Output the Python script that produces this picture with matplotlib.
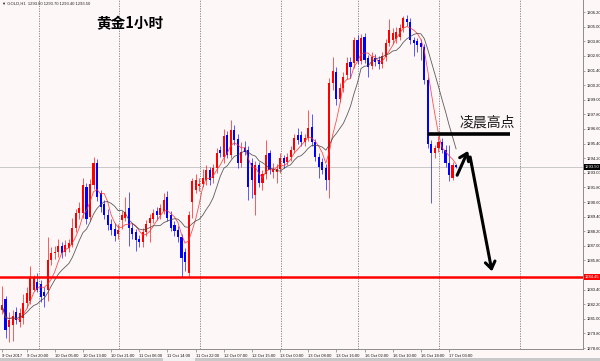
import pandas as pd
import matplotlib
matplotlib.use("Agg")
import matplotlib.pyplot as plt
from matplotlib.patches import Rectangle
from matplotlib.transforms import blended_transform_factory

# GOLD H1 candles, 9 Oct 2017 -> 17 Oct 2017
opens = [1281.7, 1282.6, 1280.3, 1280.5, 1281.6, 1280.7, 1281.1, 1282.3, 1282.5, 1283.4,
         1284.0, 1283.9, 1283.2, 1283.4, 1285.8, 1286.4, 1286.5, 1287.0, 1286.5, 1286.8,
         1287.1, 1288.5, 1289.7, 1289.7, 1291.8, 1289.4, 1292.0, 1293.8, 1291.3, 1290.4,
         1289.5, 1288.8, 1288.4, 1288.0, 1289.1, 1289.3, 1290.1, 1288.5, 1288.1, 1287.6,
         1287.3, 1288.1, 1288.9, 1289.2, 1289.9, 1289.5, 1289.9, 1291.0, 1289.5, 1288.7,
         1288.3, 1287.7, 1286.5, 1284.8, 1290.6, 1291.6, 1291.9, 1292.1, 1292.4, 1293.2,
         1292.6, 1293.4, 1294.9, 1294.3, 1296.1, 1294.5, 1296.5, 1295.8, 1293.8, 1295.0,
         1294.9, 1293.8, 1291.2, 1293.6, 1292.2, 1292.9, 1294.6, 1293.1, 1293.1, 1293.3,
         1294.2, 1293.9, 1294.3, 1294.9, 1296.1, 1296.1, 1295.5, 1295.9, 1296.8, 1295.5,
         1294.3, 1293.9, 1293.4, 1292.4, 1300.4, 1301.3, 1299.1, 1300.0, 1301.0, 1302.1,
         1302.0, 1303.9, 1302.2, 1304.2, 1302.4, 1301.8, 1302.4, 1302.3, 1301.9, 1302.5,
         1303.7, 1303.9, 1304.0, 1304.15, 1304.9, 1305.6, 1305.4, 1303.9, 1303.8, 1303.7,
         1303.3, 1300.6, 1295.4, 1294.6, 1295.0, 1295.5, 1294.9, 1293.8, 1292.6, 1293.6]
highs = [1283.7, 1282.9, 1281.6, 1281.7, 1282.0, 1281.9, 1283.0, 1283.6, 1285.3, 1284.6,
         1284.8, 1284.2, 1283.6, 1287.7, 1286.9, 1287.0, 1287.6, 1287.3, 1287.5, 1287.6,
         1289.3, 1290.0, 1290.6, 1292.6, 1292.2, 1292.5, 1294.3, 1294.1, 1291.6, 1290.8,
         1290.0, 1289.2, 1288.9, 1288.8, 1289.9, 1291.0, 1291.4, 1288.9, 1288.4, 1287.9,
         1288.5, 1289.1, 1289.6, 1290.0, 1290.2, 1290.4, 1291.3, 1291.5, 1289.9, 1289.0,
         1288.6, 1288.0, 1286.8, 1289.9, 1292.6, 1292.9, 1292.6, 1293.3, 1293.6, 1293.5,
         1293.7, 1295.0, 1295.2, 1296.6, 1296.4, 1297.3, 1296.9, 1296.2, 1295.5, 1295.6,
         1295.2, 1294.2, 1294.0, 1293.9, 1293.2, 1295.7, 1294.9, 1293.8, 1293.7, 1294.6,
         1294.5, 1294.6, 1295.2, 1296.2, 1296.7, 1296.4, 1296.2, 1298.2, 1297.8, 1295.8,
         1294.6, 1294.2, 1293.7, 1300.8, 1302.5, 1301.7, 1300.4, 1301.3, 1302.5, 1302.5,
         1304.2, 1304.3, 1304.4, 1304.5, 1302.7, 1302.9, 1302.8, 1302.6, 1302.9, 1304.0,
         1305.6, 1304.9, 1305.0, 1305.2, 1305.9, 1306.0, 1305.7, 1304.2, 1304.1, 1304.0,
         1303.6, 1300.9, 1295.7, 1295.3, 1296.0, 1295.9, 1295.3, 1295.3, 1293.9, 1293.7]
lows = [1281.4, 1279.4, 1279.1, 1279.2, 1280.6, 1280.3, 1280.6, 1281.9, 1282.2, 1283.3,
        1283.2, 1282.4, 1282.0, 1282.5, 1285.4, 1285.9, 1286.1, 1286.0, 1286.2, 1286.5,
        1286.9, 1288.1, 1289.2, 1289.3, 1288.8, 1289.0, 1291.7, 1290.7, 1289.8, 1289.2,
        1288.3, 1287.9, 1287.4, 1287.6, 1288.4, 1289.0, 1287.0, 1287.6, 1286.6, 1286.9,
        1286.9, 1287.8, 1287.3, 1288.9, 1289.1, 1289.2, 1289.6, 1289.0, 1288.2, 1287.8,
        1287.3, 1284.4, 1284.9, 1284.4, 1289.3, 1291.3, 1291.5, 1291.8, 1292.0, 1292.0,
        1292.2, 1293.0, 1294.3, 1293.8, 1294.2, 1294.2, 1295.3, 1293.4, 1293.5, 1294.5,
        1290.8, 1290.9, 1289.5, 1291.8, 1291.6, 1292.5, 1292.9, 1292.6, 1292.2, 1293.0,
        1293.4, 1293.6, 1294.0, 1294.6, 1295.4, 1295.2, 1295.2, 1295.6, 1295.2, 1294.0,
        1292.6, 1292.9, 1291.6, 1290.9, 1299.8, 1298.6, 1298.8, 1299.6, 1300.7, 1300.8,
        1301.6, 1301.9, 1301.9, 1302.0, 1300.9, 1301.5, 1301.8, 1301.5, 1301.6, 1302.2,
        1303.4, 1303.6, 1303.7, 1303.9, 1304.6, 1305.1, 1303.6, 1302.6, 1302.9, 1302.3,
        1300.3, 1295.0, 1290.5, 1294.2, 1294.7, 1294.6, 1293.5, 1292.3, 1292.4, 1293.4]
closes = [1282.1, 1280.1, 1280.9, 1281.2, 1280.9, 1281.5, 1282.3, 1283.1, 1284.4, 1284.4,
          1283.4, 1282.8, 1282.9, 1285.8, 1286.4, 1286.5, 1287.0, 1286.4, 1287.1, 1287.2,
          1288.5, 1289.7, 1290.1, 1292.0, 1289.2, 1292.1, 1293.8, 1291.0, 1290.2, 1289.5,
          1288.7, 1288.3, 1287.8, 1288.3, 1289.5, 1289.8, 1288.5, 1288.0, 1287.5, 1287.3,
          1288.1, 1288.8, 1289.3, 1289.7, 1289.5, 1290.1, 1290.8, 1289.3, 1288.5, 1288.2,
          1287.7, 1286.0, 1285.7, 1289.5, 1292.3, 1292.4, 1292.1, 1292.6, 1293.2, 1292.4,
          1293.4, 1294.6, 1294.6, 1296.0, 1294.5, 1296.5, 1295.7, 1293.8, 1294.7, 1294.7,
          1291.8, 1292.4, 1293.6, 1292.2, 1292.9, 1294.5, 1293.2, 1293.3, 1293.3, 1294.2,
          1293.8, 1294.3, 1294.9, 1295.9, 1295.7, 1295.5, 1295.9, 1296.7, 1295.5, 1294.3,
          1293.5, 1293.2, 1292.4, 1300.4, 1301.4, 1299.1, 1300.0, 1300.9, 1302.0, 1301.7,
          1303.9, 1302.2, 1304.1, 1302.3, 1301.7, 1302.5, 1302.1, 1301.9, 1302.6, 1303.7,
          1304.7, 1304.5, 1304.6, 1304.9, 1305.7, 1305.4, 1303.9, 1303.7, 1303.5, 1303.3,
          1300.6, 1295.4, 1294.6, 1295.0, 1295.5, 1294.9, 1293.8, 1292.8, 1293.6, 1293.5]

time_labels = ["9 Oct 2017", "9 Oct 20:00", "10 Oct 05:00", "10 Oct 13:00", "10 Oct 21:00",
               "11 Oct 06:00", "11 Oct 14:00", "11 Oct 22:00", "12 Oct 07:00", "12 Oct 15:00",
               "13 Oct 00:00", "13 Oct 08:00", "13 Oct 16:00", "16 Oct 02:00", "16 Oct 10:00",
               "16 Oct 18:00", "17 Oct 03:00"]
time_label_bars = [0, 7, 15, 23, 31, 39, 47, 55, 63, 71, 79, 87, 95, 103, 111, 119, 127]
grid_bars = [10.5, 33.2, 56.3, 79.3, 101.2, 124.1, 147.2]

price_ticks = [1278.60, 1279.80, 1281.00, 1282.20, 1283.40, 1284.60, 1285.80, 1287.00,
               1288.20, 1289.40, 1290.60, 1291.80, 1293.00, 1294.20, 1295.40, 1296.60,
               1297.80, 1299.00, 1300.20, 1301.40, 1302.60, 1303.80, 1305.00, 1306.20]

bid_price = 1293.50
support_price = 1284.45
night_high = 1296.2

cjk = ['Noto Sans CJK SC', 'DejaVu Sans']
small = ['Liberation Sans', 'DejaVu Sans']
fs_small = 3.0

df = pd.DataFrame({'o': opens, 'h': highs, 'l': lows, 'c': closes})
df['ma_fast'] = df['c'].rolling(5, min_periods=1).mean()
df['ma_slow'] = df['c'].rolling(10, min_periods=1).mean()
idx = df.index.values

bg = '#fdf8f7'
fig = plt.figure(figsize=(6, 3.61), dpi=100, facecolor=bg)
ax = fig.add_axes([0, 12/361, 583/600, 349/361], facecolor=bg)

up = df['c'] >= df['o']
colors = ['#ff0000' if u else '#0000ff' for u in up]
ax.vlines(idx, df['l'], df['h'], colors=colors, lw=0.6, alpha=0.75, zorder=3)
body_h = (df['c'] - df['o']).abs().clip(lower=0.06)
ax.bar(idx, body_h, bottom=df[['o', 'c']].min(axis=1), width=0.6,
       color=colors, linewidth=0, zorder=4)

ax.plot(idx, df['ma_fast'], color='#ff3030', lw=0.6, alpha=0.85, zorder=5)
ax.plot(idx, df['ma_slow'], color='#404040', lw=0.6, alpha=0.85, zorder=5)

for g in grid_bars:
    ax.axvline(g, color='#7a7a7a', lw=0.6, ls=(0, (1.5, 1.5)), zorder=1)
ax.axhline(bid_price, color='#c8c8c8', lw=0.7, zorder=2)
ax.axhline(support_price, color='#ff0000', lw=1.8, zorder=6)

# annotations drawn on the screenshot
ax.plot([121, 144.4], [night_high, night_high], color='black', lw=2.6, zorder=7,
        solid_capstyle='butt')
ax.text(138, 1297.1, "凌晨高点", family=cjk, fontsize=10, color='#1a1a1a',
        ha='center', va='center', zorder=8)
ax.annotate("", xy=(132.4, 1294.8), xytext=(129.3, 1292.8),
            arrowprops=dict(arrowstyle='->,head_length=0.5,head_width=0.35', lw=2.2,
                            color='black', shrinkA=0, shrinkB=0), zorder=8)
ax.annotate("", xy=(139.2, 1284.9), xytext=(133.0, 1294.3),
            arrowprops=dict(arrowstyle='->,head_length=0.5,head_width=0.35', lw=2.2,
                            color='black', shrinkA=0, shrinkB=0), zorder=8)

ax.text(36.2, 1305.25, "黄金1小时", family=cjk, fontsize=10.5, fontweight='bold',
        color='black', ha='center', va='center')
ax.text(0.004, 0.995, "\u25bc GOLD,H1  1293.60 1293.70 1293.40 1293.50",
        transform=ax.transAxes, family=small, fontsize=3.0, color='#222222',
        ha='left', va='top')

ax.set_xlim(-0.57, 165.06)
ax.set_ylim(1278.52, 1307.2)

ax.yaxis.tick_right()
ax.set_yticks(price_ticks)
ax.set_yticklabels([f"{p:.2f}" for p in price_ticks])
ax.tick_params(axis='y', length=1.5, width=0.5, color='#808080', labelsize=fs_small,
               pad=1.0, labelcolor='#111111')
ax.set_xticks(time_label_bars)
ax.set_xticklabels(time_labels)
ax.tick_params(axis='x', length=2, width=0.5, color='#808080', labelsize=fs_small,
               pad=1.5, labelcolor='#111111')
for lab in ax.get_xticklabels() + ax.get_yticklabels():
    lab.set_family(small)
for lab in ax.get_xticklabels():
    lab.set_horizontalalignment('left')

for s in ['left', 'top']:
    ax.spines[s].set_visible(False)
for s in ['right', 'bottom']:
    ax.spines[s].set_color('#8c8c8c')
    ax.spines[s].set_linewidth(0.7)

# price boxes on the right axis
tr = blended_transform_factory(ax.transAxes, ax.transData)
ax.text(1.003, bid_price, "1293.50", transform=tr, family=small, fontsize=fs_small,
        color='white', ha='left', va='center', zorder=10, clip_on=False,
        bbox=dict(boxstyle='square,pad=0.2', fc='black', ec='none'))
ax.text(1.003, support_price, "1284.45", transform=tr, family=small, fontsize=fs_small,
        color='white', ha='left', va='center', zorder=10, clip_on=False,
        bbox=dict(boxstyle='square,pad=0.2', fc='#ff0000', ec='none'))

# scrollbar strip at the bottom
fig.patches.append(Rectangle((0, 0), 1, 3.5/361, transform=fig.transFigure,
                             facecolor='#c9c9c9', edgecolor='none'))
fig.patches.append(Rectangle((163/600, 0), 32/600, 3.5/361, transform=fig.transFigure,
                             facecolor='#f2f2f2', edgecolor='none'))

fig.savefig('out.png', dpi=100, facecolor=bg)
